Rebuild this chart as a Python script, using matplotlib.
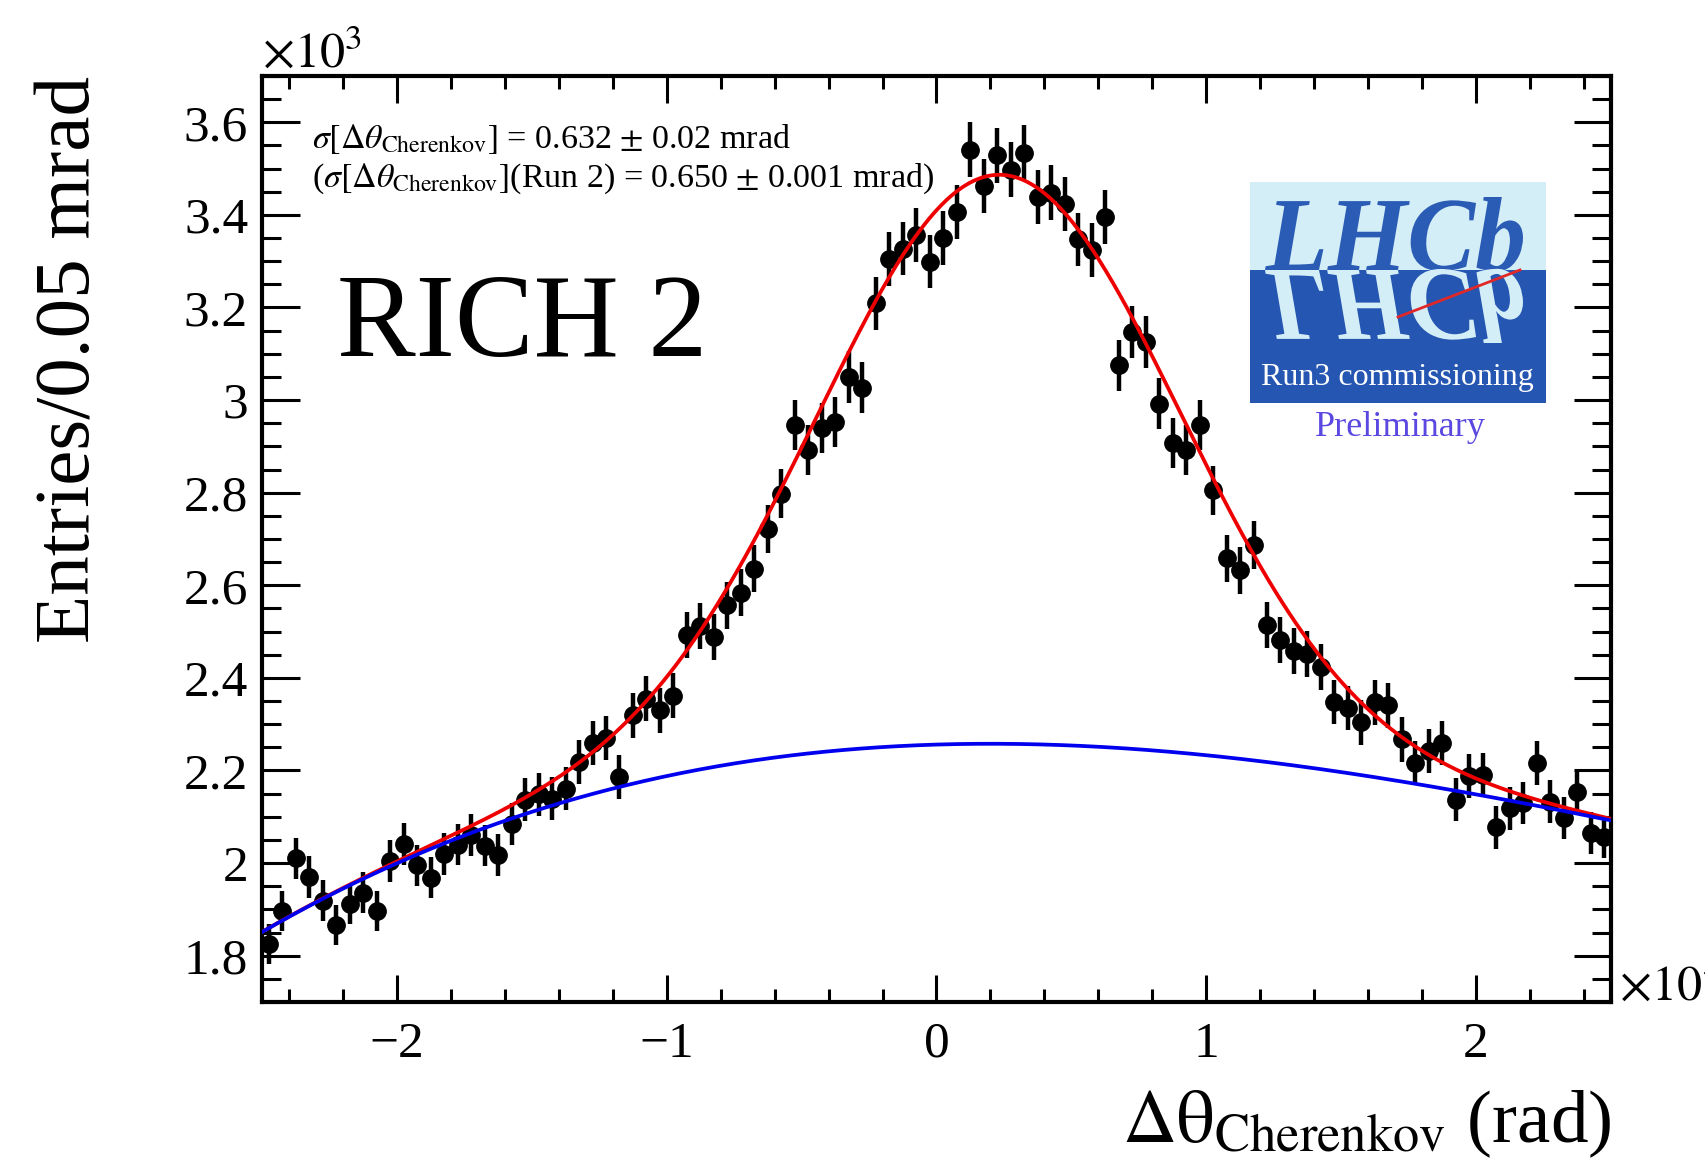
import numpy as np
import matplotlib
matplotlib.use("Agg")
import matplotlib.pyplot as plt
from matplotlib.textpath import TextPath
from matplotlib.patches import PathPatch, Rectangle
from matplotlib.font_manager import FontProperties
from matplotlib.transforms import Affine2D
from matplotlib.ticker import MultipleLocator

plt.rcParams['font.family'] = ['Liberation Serif', 'DejaVu Serif']
plt.rcParams['mathtext.fontset'] = 'stix'

# ---------------- data ----------------
x_min, x_max, n_bins = -2.5, 2.5, 100          # units of 1e-3 rad
counts = [  # entries per bin, units of 1e3
    1.825, 1.896, 2.010, 1.970, 1.919, 1.867, 1.912, 1.936, 1.896, 2.005,
    2.042, 1.995, 1.968, 2.020, 2.040, 2.061, 2.038, 2.017, 2.084, 2.137,
    2.149, 2.139, 2.161, 2.219, 2.260, 2.270, 2.186, 2.319, 2.355, 2.330,
    2.361, 2.492, 2.512, 2.488, 2.557, 2.584, 2.636, 2.722, 2.798, 2.946,
    2.892, 2.939, 2.953, 3.050, 3.027, 3.209, 3.305, 3.327, 3.357, 3.299,
    3.350, 3.406, 3.541, 3.462, 3.529, 3.498, 3.534, 3.439, 3.448, 3.424,
    3.347, 3.324, 3.396, 3.075, 3.147, 3.126, 2.992, 2.908, 2.892, 2.947,
    2.805, 2.658, 2.632, 2.686, 2.514, 2.481, 2.459, 2.452, 2.423, 2.348,
    2.335, 2.304, 2.347, 2.341, 2.267, 2.216, 2.243, 2.260, 2.137, 2.188,
    2.190, 2.077, 2.118, 2.130, 2.216, 2.133, 2.097, 2.153, 2.065, 2.056,
]
# fit model
bkg_coeffs = [2.256, 0.0176, -0.0455, 0.0049]   # a0 + a1 x + a2 x^2 + a3 x^3
sig_amp, sig_mean, sig_sigma = 1.229, 0.234, 0.66

x_ticks = [-2, -1, 0, 1, 2]
x_tick_labels = ['\u22122', '\u22121', '0', '1', '2']
y_ticks = [1.8, 2.0, 2.2, 2.4, 2.6, 2.8, 3.0, 3.2, 3.4, 3.6]
y_tick_labels = ['1.8', '2', '2.2', '2.4', '2.6', '2.8', '3', '3.2', '3.4', '3.6']

# ---------------- derived ----------------
edges = np.linspace(x_min, x_max, n_bins + 1)
centers = 0.5 * (edges[:-1] + edges[1:])
counts = np.array(counts)
errors = np.sqrt(counts * 1000.0) / 1000.0

def background(x):
    return sum(c * x ** i for i, c in enumerate(bkg_coeffs))

def total(x):
    return background(x) + sig_amp * np.exp(-0.5 * ((x - sig_mean) / sig_sigma) ** 2)

W, H = 1706, 1175
fig = plt.figure(figsize=(W / 100, H / 100), dpi=100)
fig.patch.set_facecolor('white')
L, R, T, B = 262, 1611, 76, 1002
ax = fig.add_axes([L / W, 1 - B / H, (R - L) / W, (B - T) / H])

ax.errorbar(centers, counts, yerr=errors, fmt='o', color='black', ms=12.5,
            elinewidth=3.2, capsize=0, zorder=2)
xf = np.linspace(x_min, x_max, 600)
ax.plot(xf, total(xf), color='#ee0000', lw=2.7, zorder=3)
ax.plot(xf, background(xf), color='#0000ee', lw=2.7, zorder=3)

ax.set_xlim(x_min, x_max)
ax.set_ylim(1.7, 3.7)
ax.set_xticks(x_ticks)
ax.set_xticklabels(x_tick_labels)
ax.set_yticks(y_ticks)
ax.set_yticklabels(y_tick_labels)
ax.xaxis.set_minor_locator(MultipleLocator(0.2))
ax.yaxis.set_minor_locator(MultipleLocator(0.05))
for s in ax.spines.values():
    s.set_linewidth(3)
ax.tick_params(axis='both', which='both', direction='in', top=True, right=True,
               width=2.2, labelsize=37)
ax.tick_params(axis='x', which='major', length=19.5, pad=14)
ax.tick_params(axis='x', which='minor', length=9.5)
ax.tick_params(axis='y', which='major', length=27, pad=10)
ax.tick_params(axis='y', which='minor', length=13.5)

# multipliers
fig.text(L / W, 1 - 67 / H, r'$\times10^{3}$', fontsize=36, ha='left', va='baseline')
fig.text(1619 / W, 1 - 1000 / H, r'$\times10^{-3}$', fontsize=36, ha='left', va='baseline')

# axis titles
fig.text(71 / W, 1 - T / H, 'Entries/0.05 mrad', fontsize=57, rotation=90,
         ha='center', va='top')
fig.text(R / W, 1 - 1142 / H, r'$\mathrm{\Delta\theta}_{\mathrm{Cherenkov}}$ (rad)',
         fontsize=54, ha='right', va='baseline')

# annotations
ax.text(0.037, 0.932, r'$\sigma[\Delta\theta_{\mathrm{Cherenkov}}]$ = 0.632 $\pm$ 0.02 mrad',
        transform=ax.transAxes, fontsize=24.5, ha='left', va='center')
ax.text(0.037, 0.889, r'($\sigma[\Delta\theta_{\mathrm{Cherenkov}}]$(Run 2) = 0.650 $\pm$ 0.001 mrad)',
        transform=ax.transAxes, fontsize=24.5, ha='left', va='center')
ax.text(0.0556, 0.698, 'RICH 2', transform=ax.transAxes, fontsize=85,
        ha='left', va='baseline')

# ---------------- LHCb logo ----------------
ov = fig.add_axes([0, 0, 1, 1], zorder=5)
ov.set_xlim(0, W)
ov.set_ylim(H, 0)
ov.axis('off')
ov.patch.set_alpha(0)
bx0, bx1, by0, bsplit, by1 = 1250, 1546, 182, 270, 403
ov.add_patch(Rectangle((bx0, by0), bx1 - bx0, bsplit - by0, color='#d4eef8', lw=0))
ov.add_patch(Rectangle((bx0, bsplit), bx1 - bx0, by1 - bsplit, color='#2456b2', lw=0))
tp = TextPath((0, 0), 'LHCb', size=100,
              prop=FontProperties(family='Liberation Serif', style='italic', weight='bold'))
ext = tp.get_extents()
sx = (1523 - 1265) / (ext.x1 - ext.x0)
sy = (bsplit - 197) / ext.y1
tr_up = Affine2D().translate(-ext.x0, 0).scale(sx, -sy).translate(1265, bsplit)
tr_dn = Affine2D().translate(-ext.x0, 0).scale(sx, sy).translate(1265, bsplit)
ov.add_patch(PathPatch(tr_up.transform_path(tp), color='#2a5cb6', lw=0))
ov.add_patch(PathPatch(tr_dn.transform_path(tp), color='#d4eef8', lw=0))
ov.plot([1398, 1520], [317, 270], color='#e02828', lw=2)
ov.text(1397, 377, 'Run3 commissioning', color='white', fontsize=23,
        ha='center', va='center')
ov.text(1400, 427, 'Preliminary', color='#5a48e0', fontsize=26,
        ha='center', va='center')

fig.savefig('out.png', dpi=100)
